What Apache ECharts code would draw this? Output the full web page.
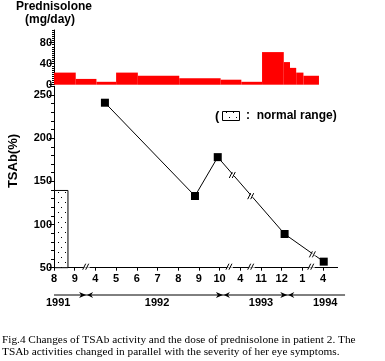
<!DOCTYPE html>
<html><head><meta charset="utf-8">
<script src="https://cdn.jsdelivr.net/npm/echarts@6/dist/echarts.min.js"></script>
<style>html,body{margin:0;padding:0;background:#fff}#c{width:385px;height:361px}</style>
</head><body><div id="c"></div>
<script>
// ---- data ----
const monthLabels = ['8','9','4','5','6','7','8','9','10','4','11','12','1','4'];
const monthTicks = [0,1,2,3,4,5,6,7,8,9,10,11,12,13];
const doseStart = [0,1.05,2.05,3,4.05,6.05,8.05,9.05,10.05,11.1,11.4,11.7,12.05];
const doseEnd   = [1.05,2.05,3,4.05,6.05,8.05,9.05,10.05,11.1,11.4,11.7,12.05,12.8];
const doseValue = [23,11,5.5,23,17,12.5,9.5,5.5,62,43,32,23,17];
const tsabX = [2.46,6.81,7.91,11.14,13.03];
const tsabY = [241,133,178,89,57];
const normalRangeMax = 140;
const axisBreakX = [1.58,8.5,9.55,12.45];
const lineBreakX = [8.66,9.55,12.53];
const yearLabels = ['1991','1992','1993','1994'];
const yearCenters = [0.2,4.98,10.0,13.1];
const yearBounds = [1.55,8.16,11.27];
const doseTicks = [0,40,80];
const tsabTicks = [50,100,150,200,250];

const FONT = 'Liberation Sans, Arial, sans-serif';
const chart = echarts.init(document.getElementById('c'), null, {renderer:'canvas'});

// dotted pattern
const pc = document.createElement('canvas'); pc.width = 7; pc.height = 10;
const pctx = pc.getContext('2d');
pctx.fillStyle = '#fff'; pctx.fillRect(0,0,7,10);
pctx.fillStyle = '#000'; pctx.fillRect(2,2,1,1); pctx.fillRect(5,7,1,1);
const pattern = {image: pc, repeat: 'repeat'};

function interpY(x){
  for (let i=0;i<tsabX.length-1;i++){
    if (x>=tsabX[i] && x<=tsabX[i+1]){
      return tsabY[i] + (x-tsabX[i])/(tsabX[i+1]-tsabX[i])*(tsabY[i+1]-tsabY[i]);
    }
  }
  return tsabY[tsabY.length-1];
}
function breakMark(cx, cy, withGap){
  const children = [];
  if (withGap) children.push({type:'rect', shape:{x:cx-3, y:cy-1, width:6, height:2}, style:{fill:'#fff'}});
  children.push({type:'line', shape:{x1:cx-4, y1:cy+3, x2:cx-1, y2:cy-3}, style:{stroke:'#000', lineWidth:1}});
  children.push({type:'line', shape:{x1:cx-1, y1:cy+3, x2:cx+2, y2:cy-3}, style:{stroke:'#000', lineWidth:1}});
  return {type:'group', children};
}

const axisText = {color:'#000', fontFamily:FONT, fontWeight:'bold', fontSize:11};
function majorAxis(grid, min, max, interval, ticks){
  return {gridIndex:grid, type:'value', position:'left', min, max, interval,
    axisLine:{show:true, lineStyle:{color:'#000'}},
    axisTick:{show:true, length:5, customValues:ticks, lineStyle:{color:'#000'}},
    axisLabel:Object.assign({customValues:ticks, margin:2, showMinLabel:true, showMaxLabel:true}, axisText),
    splitLine:{show:false}};
}
function minorAxis(grid, min, max, interval, len){
  return {gridIndex:grid, type:'value', position:'left', offset:0, min, max, interval,
    axisLine:{show:false}, axisLabel:{show:false}, splitLine:{show:false},
    axisTick:{show:true, length:len, lineStyle:{color:'#000'}}};
}

chart.setOption({
  animation:false,
  backgroundColor:'#fff',
  grid:[
    {left:54, top:30, width:283.6, height:54.7},
    {left:54, top:86.3, width:283.6, height:181.4}
  ],
  xAxis:[
    {gridIndex:0, type:'value', min:0, max:13.7, show:false},
    {gridIndex:1, type:'value', min:0, max:13.7, interval:1,
     axisLine:{show:true, lineStyle:{color:'#000', width:1}},
     axisTick:{show:true, length:3, customValues:monthTicks, lineStyle:{color:'#000'}},
     axisLabel:Object.assign({customValues:monthTicks, margin:6,
       formatter:v=>monthLabels[Math.round(v)]}, axisText),
     splitLine:{show:false}}
  ],
  yAxis:[
    majorAxis(0, 0, 104, 40, doseTicks),
    minorAxis(0, 0, 104, 4, 2),
    majorAxis(1, 50, 260, 50, tsabTicks),
    minorAxis(1, 50, 260, 10, 3)
  ],
  series:[
    {type:'custom', xAxisIndex:0, yAxisIndex:0,
     data: doseValue.map((v,i)=>[doseStart[i], doseEnd[i], v]),
     encode:{x:[0,1], y:2},
     renderItem:(params, api)=>{
       const p0 = api.coord([api.value(0), api.value(2)]);
       const p1 = api.coord([api.value(1), 0]);
       return {type:'rect', shape:{x:p0[0], y:p0[1], width:p1[0]-p0[0], height:p1[1]-p0[1]},
               style:{fill:'#ff0000'}};
     }},
    {type:'custom', xAxisIndex:1, yAxisIndex:2,
     data:[[0, normalRangeMax]],
     renderItem:(params, api)=>{
       const p0 = api.coord([0, api.value(1)]);
       const p1 = api.coord([0.65, 50]);
       return {type:'rect', shape:{x:p0[0]+0.5, y:p0[1]+0.5, width:p1[0]-p0[0], height:p1[1]-p0[1]-0.5},
               style:{fill:pattern, stroke:'#000', lineWidth:1}};
     }},
    {type:'line', xAxisIndex:1, yAxisIndex:2,
     data: tsabX.map((x,i)=>[x, tsabY[i]]),
     symbol:'rect', symbolSize:8, showSymbol:true,
     itemStyle:{color:'#000'}, lineStyle:{color:'#000', width:1}, z:3},
    {type:'custom', xAxisIndex:1, yAxisIndex:2, clip:false, z:5,
     data: axisBreakX.map(x=>[x, 50]),
     renderItem:(params, api)=>{
       const p = api.coord([api.value(0), api.value(1)]);
       return breakMark(p[0], p[1]-1, true);
     }},
    {type:'custom', xAxisIndex:1, yAxisIndex:2, clip:false, z:5,
     data: lineBreakX.map(x=>[x, interpY(x)]),
     renderItem:(params, api)=>{
       const p = api.coord([api.value(0), api.value(1)]);
       return breakMark(p[0], p[1], true);
     }}
  ]
});

// year row and texts
const px = x => chart.convertToPixel({xAxisIndex:1}, x);
const yearY = 295;
const graphics = [];
graphics.push({type:'line', shape:{x1:px(0), y1:yearY, x2:px(14.06), y2:yearY}, style:{stroke:'#000', lineWidth:1}});
yearBounds.forEach(b=>{
  const bx = px(b);
  graphics.push({type:'polygon', shape:{points:[[bx-7,yearY-3],[bx,yearY],[bx-7,yearY+3],[bx-5,yearY]]}, style:{fill:'#000'}});
  graphics.push({type:'polygon', shape:{points:[[bx+7,yearY-3],[bx+1,yearY],[bx+7,yearY+3],[bx+5,yearY]]}, style:{fill:'#000'}});
});
yearLabels.forEach((t,i)=>{
  graphics.push({type:'text', x:px(yearCenters[i]), y:yearY+8,
    style:{text:t, fill:'#000', font:'bold 11px '+FONT, align:'center', verticalAlign:'middle'}});
});
graphics.push({type:'text', x:54, y:7, style:{text:'Prednisolone', fill:'#000', font:'bold 12px '+FONT, align:'center', verticalAlign:'middle'}});
graphics.push({type:'text', x:50, y:20, style:{text:'(mg/day)', fill:'#000', font:'bold 12px '+FONT, align:'center', verticalAlign:'middle'}});
graphics.push({type:'text', x:13, y:161, rotation:Math.PI/2,
  style:{text:'TSAb(%)', fill:'#000', font:'bold 13px '+FONT, align:'center', verticalAlign:'middle'}});
// legend
graphics.push({type:'text', x:215, y:116, style:{text:'(', fill:'#000', font:'bold 13px '+FONT, align:'left', verticalAlign:'middle'}});
graphics.push({type:'rect', shape:{x:222.5, y:111.5, width:17, height:9}, style:{fill:pattern, stroke:'#000', lineWidth:1}});
graphics.push({type:'text', x:246, y:116, style:{text:':  normal range)', fill:'#000', font:'bold 12px '+FONT, align:'left', verticalAlign:'middle'}});
// caption
const capFont = '11.3px Liberation Serif, Times New Roman, serif';
graphics.push({type:'text', x:2, y:340, style:{text:'Fig.4 Changes of TSAb activity and the dose of prednisolone in patient 2. The', fill:'#000', font:capFont, align:'left', verticalAlign:'middle'}});
graphics.push({type:'text', x:2, y:352, style:{text:'TSAb activities changed in parallel with the severity of her eye symptoms.', fill:'#000', font:capFont, align:'left', verticalAlign:'middle'}});
chart.setOption({graphic:graphics});
</script>
</body></html>
